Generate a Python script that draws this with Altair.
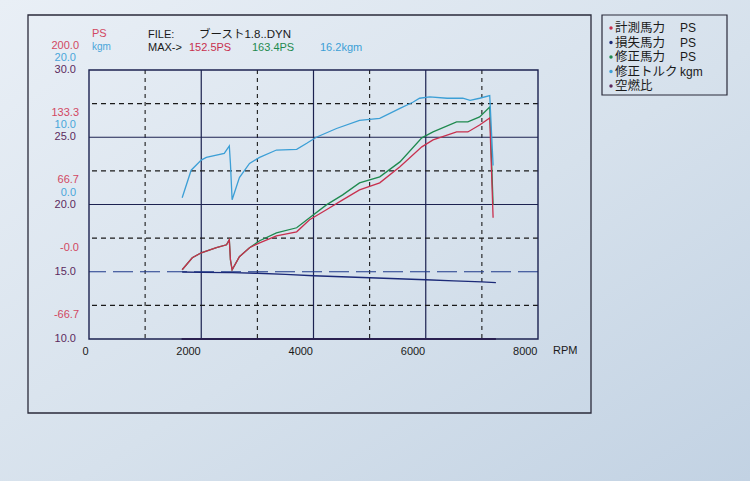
import altair as alt
import pandas as pd

# ---------------- data ----------------
rpm_ticks = [0, 2000, 4000, 6000, 8000]
grid_major_rpm = [2000, 4000, 6000]
grid_minor_rpm = [1000, 3000, 5000, 7000]
af_major = [25.0, 20.0]
af_minor = [27.5, 22.5, 17.5, 12.5]
af_ref = [15.0]

ps_ticks = [200.0, 133.3, 66.7, 0.0, -66.7]
ps_tick_labels = ["200.0", "133.3", "66.7", "-0.0", "-66.7"]
kgm_ticks = [20.0, 10.0, 0.0]
kgm_tick_labels = ["20.0", "10.0", "0.0"]
af_ticks = [30.0, 25.0, 20.0, 15.0, 10.0]
af_tick_labels = ["30.0", "25.0", "20.0", "15.0", "10.0"]

pwr_rpm = [1660, 1840, 2000, 2270, 2450, 2500, 2520, 2550, 2680, 2860, 3040, 3340,
           3700, 3930, 4230, 4520, 4820, 5180, 5540, 5930, 6130, 6550, 6750, 6960,
           7140, 7200]
ps_measured = [2.0, 13.9, 18.8, 23.8, 26.7, 31.7, 11.9, 2.0, 14.9, 23.8, 28.7, 35.6,
               39.6, 51.5, 61.4, 71.3, 81.2, 88.1, 104.0, 123.8, 130.7, 138.6, 138.6, 145.5,
               152.5, 53.5]
ps_corrected = [2.0, 13.9, 18.8, 23.8, 26.7, 31.7, 11.9, 2.0, 14.9, 23.8, 30.7, 38.6,
                43.6, 53.5, 66.3, 76.2, 88.1, 94.1, 108.9, 132.7, 138.6, 148.5, 148.5, 153.5,
                163.4, 66.3]

tq_rpm = [1660, 1820, 2000, 2090, 2410, 2500, 2520, 2550, 2680, 2860, 3040, 3340,
          3700, 3880, 4050, 4410, 4820, 5180, 5540, 5770, 5890, 6070, 6380, 6660,
          6790, 6960, 7140, 7200]
tq_kgm = [1.0, 5.1, 6.6, 7.0, 7.6, 8.7, 6.1, 0.7, 4.0, 6.1, 7.0, 8.1,
          8.2, 9.1, 10.0, 11.3, 12.5, 12.8, 14.3, 15.2, 15.8, 16.0, 15.8, 15.8,
          15.5, 15.8, 16.2, 5.8]

loss_rpm = [1660, 2000, 2500, 2550, 3000, 3500, 4000, 4500, 5000, 5500, 6000, 6500, 7000, 7250]
loss_ps = [-0.3, -0.6, -0.9, -0.9, -1.5, -2.6, -4.0, -5.0, -6.0, -7.0, -8.0, -9.0, -10.0, -10.8]

af_rpm = [1650, 7250]
af_val = [10.0, 10.0]

legend_labels = ["計測馬力", "損失馬力", "修正馬力", "修正トルク", "空燃比"]
legend_units = ["PS", "PS", "PS", "kgm", ""]

# ---------------- style ----------------
W, H = 449, 269
PADL, PADT = 89, 70
RED = "#c8304e"
RED_LBL = "#d24862"
GREEN = "#1f8a4f"
BLUE = "#3c9fd6"
BLUE_LBL = "#4aa6da"
NAVY = "#1c2a78"
PURPLE = "#5c2a5e"
GRIDDARK = "#1c2250"
DASH = "#1a1a1a"
LATIN = "Liberation Sans"
JP = "Liberation Sans, Noto Sans CJK JP"
legend_colors = [RED, NAVY, GREEN, BLUE, PURPLE]

PS_DOM = [-66.667, 200.0]
KG_DOM = [-20.0, 20.0]
AF_DOM = [10.0, 30.0]

XAX = alt.Axis(values=rpm_ticks, title=None, grid=False, ticks=False, domain=False,
               labelAlign="right", labelBaseline="top", labelPadding=6, labelOffset=-1,
               labelFontSize=11, labelFont=LATIN, labelColor="#1a1a1a", format="d",
               zindex=2)


def X(field):
    return alt.X(f"{field}:Q", scale=alt.Scale(domain=[0, 8000], nice=False, zero=False), axis=XAX)


def Y(field, dom):
    return alt.Y(f"{field}:Q", scale=alt.Scale(domain=dom, nice=False, zero=False), axis=None)


def txt(s, x, y, color="#1a1a1a", size=11, font=LATIN, align="left"):
    return alt.Chart(pd.DataFrame({"t": [s]})).mark_text(
        align=align, baseline="middle", font=font, fontSize=size, color=color
    ).encode(text="t:N", x=alt.value(x), y=alt.value(y))


def box(x1, x2, y1, y2, stroke="#1a1a1a", width=1.2):
    return alt.Chart(pd.DataFrame({"a": [0]})).mark_rect(
        stroke=stroke, strokeWidth=width, fill="white", fillOpacity=0).encode(
        x=alt.value(x1), x2=alt.value(x2), y=alt.value(y1), y2=alt.value(y2))


layers = []

# photo-paper background
bg = alt.LinearGradient(gradient="linear", x1=0, y1=0, x2=1, y2=1,
                        stops=[alt.GradientStop(color="#e9eff6", offset=0),
                               alt.GradientStop(color="#d6e1ec", offset=0.55),
                               alt.GradientStop(color="#c2d2e3", offset=1)])
layers.append(alt.Chart(pd.DataFrame({"a": [0]})).mark_rect(fill=bg, strokeWidth=0).encode(
    x=alt.value(-PADL), x2=alt.value(750 - PADL), y=alt.value(-PADT), y2=alt.value(481 - PADT)))

# outer page frame and legend frame
layers.append(box(-61, 502, -55, 343, stroke="#2a2a3a", width=1.3))
layers.append(box(513, 638, -55, 25, stroke="#2a2a3a", width=1.2))

# grid
layers.append(alt.Chart(pd.DataFrame({"rpm": grid_minor_rpm})).mark_rule(
    color=DASH, strokeWidth=1.1, strokeDash=[4, 4]).encode(x=X("rpm")))
layers.append(alt.Chart(pd.DataFrame({"rpm": grid_major_rpm})).mark_rule(
    color=GRIDDARK, strokeWidth=1.2).encode(x=X("rpm")))
layers.append(alt.Chart(pd.DataFrame({"af": af_minor})).mark_rule(
    color=DASH, strokeWidth=1.1, strokeDash=[5, 4]).encode(y=Y("af", AF_DOM)))
layers.append(alt.Chart(pd.DataFrame({"af": af_major})).mark_rule(
    color=GRIDDARK, strokeWidth=1.2).encode(y=Y("af", AF_DOM)))
layers.append(alt.Chart(pd.DataFrame({"af": af_ref})).mark_rule(
    color="#1f3a8a", strokeWidth=1.2, strokeDash=[20, 7]).encode(y=Y("af", AF_DOM)))

# plot border
layers.append(box(0, W, 0, H, stroke=GRIDDARK, width=1.4))

# curves
pwr = pd.DataFrame({"rpm": pwr_rpm, "meas": ps_measured, "corr": ps_corrected})
layers.append(alt.Chart(pd.DataFrame({"rpm": loss_rpm, "ps": loss_ps})).mark_line(
    color=NAVY, strokeWidth=1.4).encode(x=X("rpm"), y=Y("ps", PS_DOM)))
layers.append(alt.Chart(pd.DataFrame({"rpm": af_rpm, "af": af_val})).mark_line(
    color="#2a2050", strokeWidth=2.2).encode(x=X("rpm"), y=Y("af", AF_DOM)))
layers.append(alt.Chart(pwr).mark_line(color=GREEN, strokeWidth=1.3).encode(
    x=X("rpm"), y=Y("corr", PS_DOM)))
layers.append(alt.Chart(pwr).mark_line(color=RED, strokeWidth=1.3).encode(
    x=X("rpm"), y=Y("meas", PS_DOM)))
layers.append(alt.Chart(pd.DataFrame({"rpm": tq_rpm, "kgm": tq_kgm})).mark_line(
    color=BLUE, strokeWidth=1.3).encode(x=X("rpm"), y=Y("kgm", KG_DOM)))

# left scale labels
layers.append(alt.Chart(pd.DataFrame({"v": ps_ticks, "t": ps_tick_labels})).mark_text(
    align="right", baseline="middle", dy=-24, font=LATIN, fontSize=11, color=RED_LBL).encode(
    x=alt.value(-10), y=Y("v", PS_DOM), text="t:N"))
layers.append(alt.Chart(pd.DataFrame({"v": kgm_ticks, "t": kgm_tick_labels})).mark_text(
    align="right", baseline="middle", dy=-12, font=LATIN, fontSize=11, color=BLUE_LBL).encode(
    x=alt.value(-13), y=Y("v", KG_DOM), text="t:N"))
layers.append(alt.Chart(pd.DataFrame({"v": af_ticks, "t": af_tick_labels})).mark_text(
    align="right", baseline="middle", font=LATIN, fontSize=11, color=PURPLE).encode(
    x=alt.value(-13), y=Y("v", AF_DOM), text="t:N"))

# header texts
layers.append(txt("PS", 3, -36, RED_LBL, 11))
layers.append(txt("kgm", 3, -23, BLUE_LBL, 10))
layers.append(txt("FILE:", 59, -35, size=11))
layers.append(txt("ブースト1.8..DYN", 110, -35, size=11.5, font=JP))
layers.append(txt("MAX->", 59, -22, size=11))
layers.append(txt("152.5PS", 100, -22, RED, 11))
layers.append(txt("163.4PS", 163, -22, GREEN, 11))
layers.append(txt("16.2kgm", 231, -22, BLUE, 11))
layers.append(txt("RPM", 464, 281, size=11))

# legend
for i, (lab, unit, col) in enumerate(zip(legend_labels, legend_units, legend_colors)):
    yy = -42 + i * 14.5
    layers.append(alt.Chart(pd.DataFrame({"a": [0]})).mark_circle(size=12, opacity=1, color=col).encode(
        x=alt.value(522), y=alt.value(yy)))
    layers.append(txt(lab, 526, yy, size=12.5, font=JP))
    if unit:
        layers.append(txt(unit, 591, yy, size=12))

chart = alt.layer(*layers).resolve_scale(y="independent").properties(
    width=W, height=H,
    autosize=alt.AutoSizeParams(type="none"),
    padding={"left": PADL, "top": PADT, "right": 750 - PADL - W, "bottom": 481 - PADT - H},
    background="#d6e0eb",
).configure_view(stroke=None)

chart.save("out.html", embed_options={"renderer": "svg", "actions": False})
